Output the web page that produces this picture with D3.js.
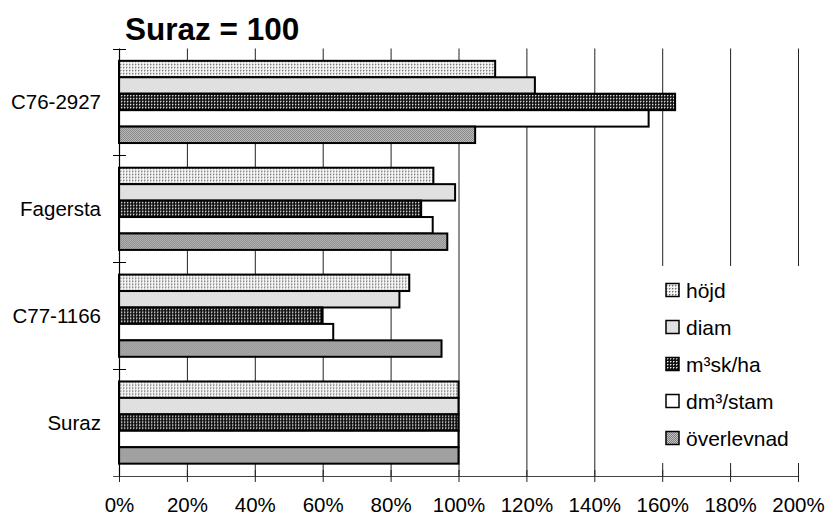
<!DOCTYPE html>
<html>
<head>
<meta charset="utf-8">
<script src="https://cdn.jsdelivr.net/npm/d3@7"></script>
<style>
  html, body { margin: 0; padding: 0; background: #fff; }
  svg { display: block; font-family: "Liberation Sans", Arial, sans-serif; }
</style>
</head>
<body>
<svg id="chart" width="827" height="516"></svg>
<script>
// Clones relative to Suraz (= 100 %)
const categories = ["C76-2927", "Fagersta", "C77-1166", "Suraz"];
const seriesNames = ["höjd", "diam", "m³sk/ha", "dm³/stam", "överlevnad"];
const hojd       = [110.8, 92.6, 85.5, 100];
const diam       = [122.5, 99.0, 82.6, 100];
const m3skha     = [163.8, 89.0, 59.8, 100];
const dm3stam    = [156.0, 92.4, 63.1, 100];
const overlevnad = [104.9, 96.7, 95.0, 100];
const seriesValues = [hojd, diam, m3skha, dm3stam, overlevnad];
const xTicks = [0, 20, 40, 60, 80, 100, 120, 140, 160, 180, 200];
const title = "Suraz = 100";

const svg = d3.select("#chart");
const plotLeft = 119, plotRight = 798, plotTop = 48.5, plotBottom = 476;
const labelSize = 20.5;

// Fill patterns for the five series
const defs = svg.append("defs");
function pattern(id, size, bg, dots) {
  const p = defs.append("pattern").attr("id", id)
    .attr("patternUnits", "userSpaceOnUse").attr("width", size).attr("height", size);
  p.append("rect").attr("width", size).attr("height", size).attr("fill", bg);
  dots.forEach(d => p.append("rect").attr("x", d[0]).attr("y", d[1])
    .attr("width", d[2]).attr("height", d[3]).attr("fill", d[4]));
}
pattern("p-hojd", 3, "#f4f4f4", [[0, 0, 1, 1, "#6e6e6e"], [1, 0, 1, 1, "#b4b4b4"], [0, 1, 1, 1, "#b4b4b4"]]);
pattern("p-m3", 3, "#141414", [[1, 1, 1, 1, "#f0f0f0"], [2, 1, 1, 1, "#7a7a7a"], [1, 2, 1, 1, "#7a7a7a"]]);
pattern("p-overl", 2, "#7e7e7e", [[0, 0, 1, 1, "#c4c4c4"], [1, 1, 1, 1, "#c4c4c4"]]);
const fills = ["url(#p-hojd)", "#e0e0e0", "url(#p-m3)", "#ffffff", "url(#p-overl)"];

const x = d3.scaleLinear().domain([0, 200]).range([plotLeft, plotRight]);
const y = d3.scaleBand().domain(categories).range([plotTop, plotBottom])
  .paddingInner(1.5 / 6.5).paddingOuter(0.75 / 6.5);
const ySub = d3.scaleBand().domain(seriesNames).range([0, y.bandwidth()]).padding(0);

// Vertical gridlines
svg.append("g").selectAll("line").data(xTicks.slice(1)).join("line")
  .attr("x1", d => x(d) + 0.5).attr("x2", d => x(d) + 0.5)
  .attr("y1", plotTop).attr("y2", plotBottom)
  .attr("stroke", "#222").attr("stroke-width", 1);

// Bars
const groups = svg.append("g").selectAll("g").data(categories).join("g")
  .attr("transform", d => `translate(0,${y(d)})`);
groups.each(function(cat, ci) {
  d3.select(this).selectAll("rect").data(seriesNames).join("rect")
    .attr("x", x(0))
    .attr("y", s => ySub(s))
    .attr("width", (s, si) => x(seriesValues[si][ci]) - x(0))
    .attr("height", ySub.bandwidth())
    .attr("fill", (s, si) => fills[si])
    .attr("stroke", "#000").attr("stroke-width", 2);
});

// Legend (white box covers the gridlines behind it)
const legend = svg.append("g");
legend.append("rect").attr("x", 656).attr("y", 266).attr("width", 160).attr("height", 197)
  .attr("fill", "#fff");
seriesNames.forEach((s, i) => {
  const cy = 290 + i * 37;
  legend.append("rect").attr("x", 666).attr("y", cy - 6.5).attr("width", 13).attr("height", 13)
    .attr("fill", fills[i]).attr("stroke", "#000").attr("stroke-width", 1.5);
  legend.append("text").attr("x", 686).attr("y", cy + 7.5).attr("font-size", 21)
    .attr("fill", "#000").text(s);
});

// X axis
const xAxis = svg.append("g").attr("transform", `translate(0,${plotBottom})`)
  .call(d3.axisBottom(x).tickValues(xTicks).tickFormat(d => d + "%").tickSize(6).tickSizeOuter(0));
xAxis.select(".domain").attr("stroke", "#444").attr("d", `M${plotLeft - 6},0.5H${plotRight}`);
xAxis.selectAll(".tick line").attr("stroke", "#222").attr("y1", -6).attr("y2", 6);
xAxis.selectAll(".tick text").attr("font-size", labelSize).attr("fill", "#000")
  .attr("font-family", "Liberation Sans, Arial, sans-serif").attr("dy", null).attr("y", 36);

// Y axis with cross ticks at category boundaries
const boundaries = categories.map(c => y(c) - y.step() * y.paddingInner() / 2);
const yAxis = svg.append("g");
yAxis.append("line").attr("x1", plotLeft + 0.5).attr("x2", plotLeft + 0.5)
  .attr("y1", plotTop).attr("y2", plotBottom)
  .attr("stroke", "#000").attr("stroke-width", 1.2);
yAxis.selectAll(".yt").data(boundaries).join("line").attr("class", "yt")
  .attr("x1", plotLeft - 6).attr("x2", plotLeft + 7)
  .attr("y1", d => Math.round(d) + 0.5).attr("y2", d => Math.round(d) + 0.5)
  .attr("stroke", "#000");
yAxis.selectAll("text").data(categories).join("text")
  .attr("x", 101).attr("y", d => y(d) + y.bandwidth() / 2)
  .attr("dy", "0.35em").attr("text-anchor", "end").attr("font-size", labelSize).attr("fill", "#000")
  .text(d => d);

// Title
svg.append("text").attr("x", 125).attr("y", 40).attr("font-size", 31.5).attr("font-weight", "bold")
  .attr("fill", "#000").text(title);
</script>
</body>
</html>
